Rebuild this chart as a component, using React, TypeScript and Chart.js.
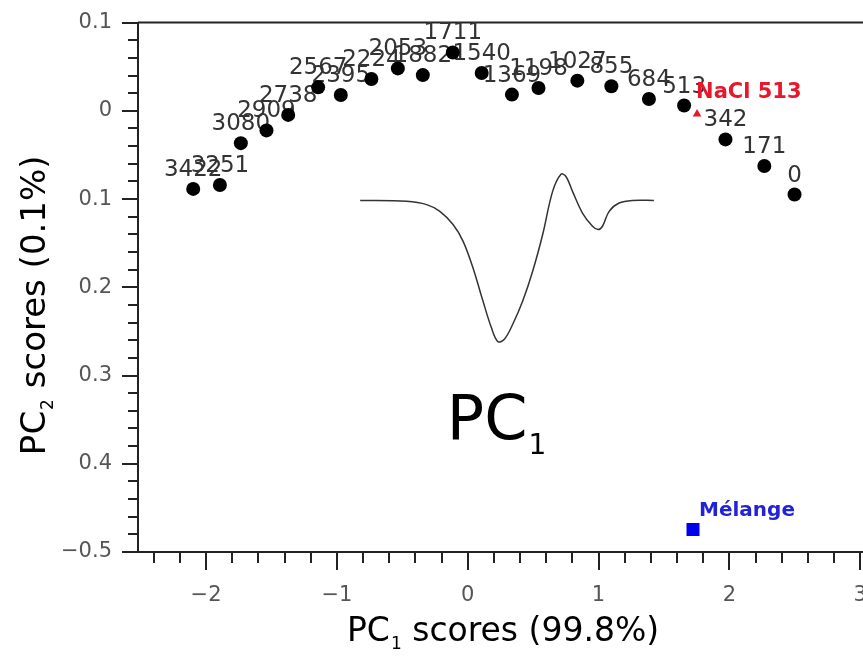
import React, { useEffect, useRef } from 'react';
import { Chart, registerables } from 'chart.js';

Chart.register(...registerables);

// ---- data ----
const sampleLabels = ['3422', '3251', '3080', '2909', '2738', '2567', '2395', '2224', '2053', '1882', '1711', '1540', '1369', '1198', '1027', '855', '684', '513', '342', '171', '0'];
const pc1Scores = [-2.098, -1.894, -1.734, -1.538, -1.372, -1.143, -0.970, -0.736, -0.534, -0.343, -0.114, 0.107, 0.338, 0.541, 0.838, 1.098, 1.385, 1.654, 1.970, 2.267, 2.498];
const pc2Scores = [-0.0885, -0.0840, -0.0366, -0.0222, -0.0046, 0.0266, 0.0179, 0.0360, 0.0481, 0.0405, 0.0661, 0.0428, 0.0184, 0.0258, 0.0342, 0.0278, 0.0134, 0.0060, -0.0324, -0.0625, -0.0949];

const naclLabel = 'NaCl 513';
const naclPc1 = [1.753];
const naclPc2 = [-0.0035];

const melangeLabel = 'Mélange';
const melangePc1 = [1.722];
const melangePc2 = [-0.4744];

// PC1 loading curve (inset), expressed in score-plot coordinates
const loadingX = [-0.822, -0.467, -0.314, -0.213, -0.112, -0.036, 0.040, 0.116, 0.180, 0.231, 0.282, 0.345, 0.421, 0.497, 0.573, 0.649, 0.713, 0.751, 0.801, 0.877, 0.954, 0.997, 1.030, 1.081, 1.157, 1.258, 1.423];
const loadingY = [-0.1015, -0.1026, -0.1063, -0.1139, -0.1289, -0.1477, -0.1778, -0.2153, -0.2454, -0.2616, -0.2585, -0.2416, -0.2153, -0.1815, -0.1401, -0.0913, -0.0718, -0.0744, -0.0913, -0.1158, -0.1308, -0.1345, -0.1308, -0.1139, -0.1045, -0.1015, -0.1015];

const xTicks = [-2, -1, 0, 1, 2, 3];
const xTickLabels = ['−2', '−1', '0', '1', '2', '3'];
const yTicks = [-0.5, -0.4, -0.3, -0.2, -0.1, 0, 0.1];
const yTickLabels = ['−0.5', '0.4', '0.3', '0.2', '0.1', '0', '0.1'];

const annotText = 'PC';
const annotSub = '1';
const annotX = -0.16;
const annotY = -0.372;

const FONT = "'DejaVu Sans', sans-serif";

function drawSubText(ctx: any, main1: string, sub: string, main2: string, size: number, subSize: number, subDrop: number, x: number, y: number, align: 'left' | 'center') {
  ctx.textAlign = 'left';
  ctx.textBaseline = 'alphabetic';
  ctx.font = `${size}px ${FONT}`;
  const w1 = ctx.measureText(main1).width;
  const w3 = ctx.measureText(main2).width;
  ctx.font = `${subSize}px ${FONT}`;
  const w2 = ctx.measureText(sub).width;
  const total = w1 + w2 + w3 + 1;
  let sx = align === 'center' ? x - total / 2 : x;
  ctx.font = `${size}px ${FONT}`;
  ctx.fillText(main1, sx, y);
  sx += w1 + 1;
  ctx.font = `${subSize}px ${FONT}`;
  ctx.fillText(sub, sx, y + subDrop);
  sx += w2;
  ctx.font = `${size}px ${FONT}`;
  ctx.fillText(main2, sx, y);
}

const decorPlugin = {
  id: 'decor',
  beforeDatasetsDraw(chart: any) {
    const { ctx, chartArea: ca, scales } = chart;
    const x = scales.x;
    const y = scales.y;
    ctx.save();
    // top frame line
    ctx.strokeStyle = '#222';
    ctx.lineWidth = 2;
    ctx.beginPath();
    ctx.moveTo(ca.left, ca.top);
    ctx.lineTo(ca.right + 2, ca.top);
    ctx.stroke();

    // x ticks (major 1, minor 0.2)
    ctx.lineWidth = 2;
    for (let k = -12; k <= 15; k++) {
      const v = k / 5;
      if (v < x.min || v > x.max) continue;
      const px = Math.round(x.getPixelForValue(v));
      const len = k % 5 === 0 ? 18 : 11;
      ctx.beginPath();
      ctx.moveTo(px, ca.bottom);
      ctx.lineTo(px, ca.bottom + len);
      ctx.stroke();
    }
    // y ticks (major 0.1, minor 0.02)
    for (let k = -25; k <= 5; k++) {
      const v = k / 50;
      const py = Math.round(y.getPixelForValue(v));
      const len = k % 5 === 0 ? 16 : 10;
      ctx.beginPath();
      ctx.moveTo(ca.left, py);
      ctx.lineTo(ca.left - len, py);
      ctx.stroke();
    }

    // sample labels
    ctx.font = `23px ${FONT}`;
    ctx.fillStyle = '#333';
    ctx.textAlign = 'center';
    ctx.textBaseline = 'middle';
    sampleLabels.forEach((t, i) => {
      ctx.fillText(t, x.getPixelForValue(pc1Scores[i]), y.getPixelForValue(pc2Scores[i]) - 19);
    });

    // NaCl label
    ctx.font = `bold 21px ${FONT}`;
    ctx.fillStyle = '#e8182a';
    ctx.textAlign = 'left';
    ctx.fillText(naclLabel, x.getPixelForValue(naclPc1[0]) - 1, y.getPixelForValue(naclPc2[0]) - 21);

    // Mélange label
    ctx.font = `bold 20px ${FONT}`;
    ctx.fillStyle = '#2222d8';
    ctx.fillText(melangeLabel, x.getPixelForValue(melangePc1[0]) + 6, y.getPixelForValue(melangePc2[0]) - 19);

    // big PC1 annotation
    ctx.fillStyle = '#000';
    drawSubText(ctx, annotText, annotSub, '', 62, 28, 15, x.getPixelForValue(annotX), y.getPixelForValue(annotY), 'left');

    // axis titles
    drawSubText(ctx, 'PC', '1', ' scores (99.8%)', 33, 17, 8, (ca.left + ca.right) / 2, 641, 'center');
    ctx.save();
    ctx.translate(45, (ca.top + ca.bottom) / 2 + 18);
    ctx.rotate(-Math.PI / 2);
    drawSubText(ctx, 'PC', '2', ' scores (0.1%)', 34, 17, 8, 0, 0, 'center');
    ctx.restore();

    ctx.restore();
  },
};

export default function App() {
  const canvasRef = useRef<HTMLCanvasElement | null>(null);

  useEffect(() => {
    const canvas = canvasRef.current;
    if (!canvas) return;
    const chart = new Chart(canvas, {
      type: 'scatter',
      data: {
        datasets: [
          {
            label: 'PC1 loading',
            data: loadingX.map((v, i) => ({ x: v, y: loadingY[i] })),
            showLine: true,
            borderColor: '#333',
            borderWidth: 1.5,
            pointRadius: 0,
            tension: 0.35,
            fill: false,
          },
          {
            label: 'samples',
            data: pc1Scores.map((v, i) => ({ x: v, y: pc2Scores[i] })),
            pointRadius: 7,
            pointBackgroundColor: '#000',
            pointBorderColor: '#000',
            pointBorderWidth: 0,
          },
          {
            label: naclLabel,
            data: naclPc1.map((v, i) => ({ x: v, y: naclPc2[i] })),
            pointStyle: 'triangle',
            pointRadius: 5,
            pointBackgroundColor: '#e8182a',
            pointBorderColor: '#e8182a',
            pointBorderWidth: 0,
          },
          {
            label: melangeLabel,
            data: melangePc1.map((v, i) => ({ x: v, y: melangePc2[i] })),
            pointStyle: 'rect',
            pointRadius: 9.2,
            pointBackgroundColor: '#0000ee',
            pointBorderColor: '#0000ee',
            pointBorderWidth: 0,
          },
        ],
      },
      options: {
        animation: false,
        responsive: false,
        devicePixelRatio: 1,
        layout: { padding: { top: 20, right: 4.7, left: 0, bottom: 0 } },
        plugins: {
          legend: { display: false },
          tooltip: { enabled: false },
        },
        scales: {
          x: {
            type: 'linear',
            min: -2.52,
            max: 3.06,
            afterBuildTicks: (s: any) => {
              s.ticks = xTicks.map((v) => ({ value: v }));
            },
            afterFit: (s: any) => {
              s.height = 104;
            },
            ticks: {
              callback: (_v: any, i: number) => xTickLabels[i],
              font: { family: FONT, size: 21 },
              color: '#555',
              padding: 13,
              maxRotation: 0,
              autoSkip: false,
            },
            grid: { display: true, drawOnChartArea: false, drawTicks: true, tickLength: 18, color: 'rgba(0,0,0,0)' },
            border: { display: true, color: '#222', width: 2 },
          },
          y: {
            type: 'linear',
            min: -0.5,
            max: 0.1,
            afterBuildTicks: (s: any) => {
              s.ticks = yTicks.map((v) => ({ value: v }));
            },
            afterFit: (s: any) => {
              s.width = 138;
            },
            ticks: {
              callback: (_v: any, i: number) => yTickLabels[i],
              font: { family: FONT, size: 21 },
              color: '#555',
              padding: 10,
              autoSkip: false,
            },
            grid: { display: true, drawOnChartArea: false, drawTicks: true, tickLength: 16, color: 'rgba(0,0,0,0)' },
            border: { display: true, color: '#222', width: 2 },
          },
        },
      },
      plugins: [decorPlugin],
    } as any);
    return () => chart.destroy();
  }, []);

  return (
    <div style={{ position: 'absolute', left: 0, top: 0, width: 863, height: 656, overflow: 'hidden', background: '#fff' }}>
      <canvas ref={canvasRef} width={880} height={656} style={{ display: 'block' }} />
    </div>
  );
}
